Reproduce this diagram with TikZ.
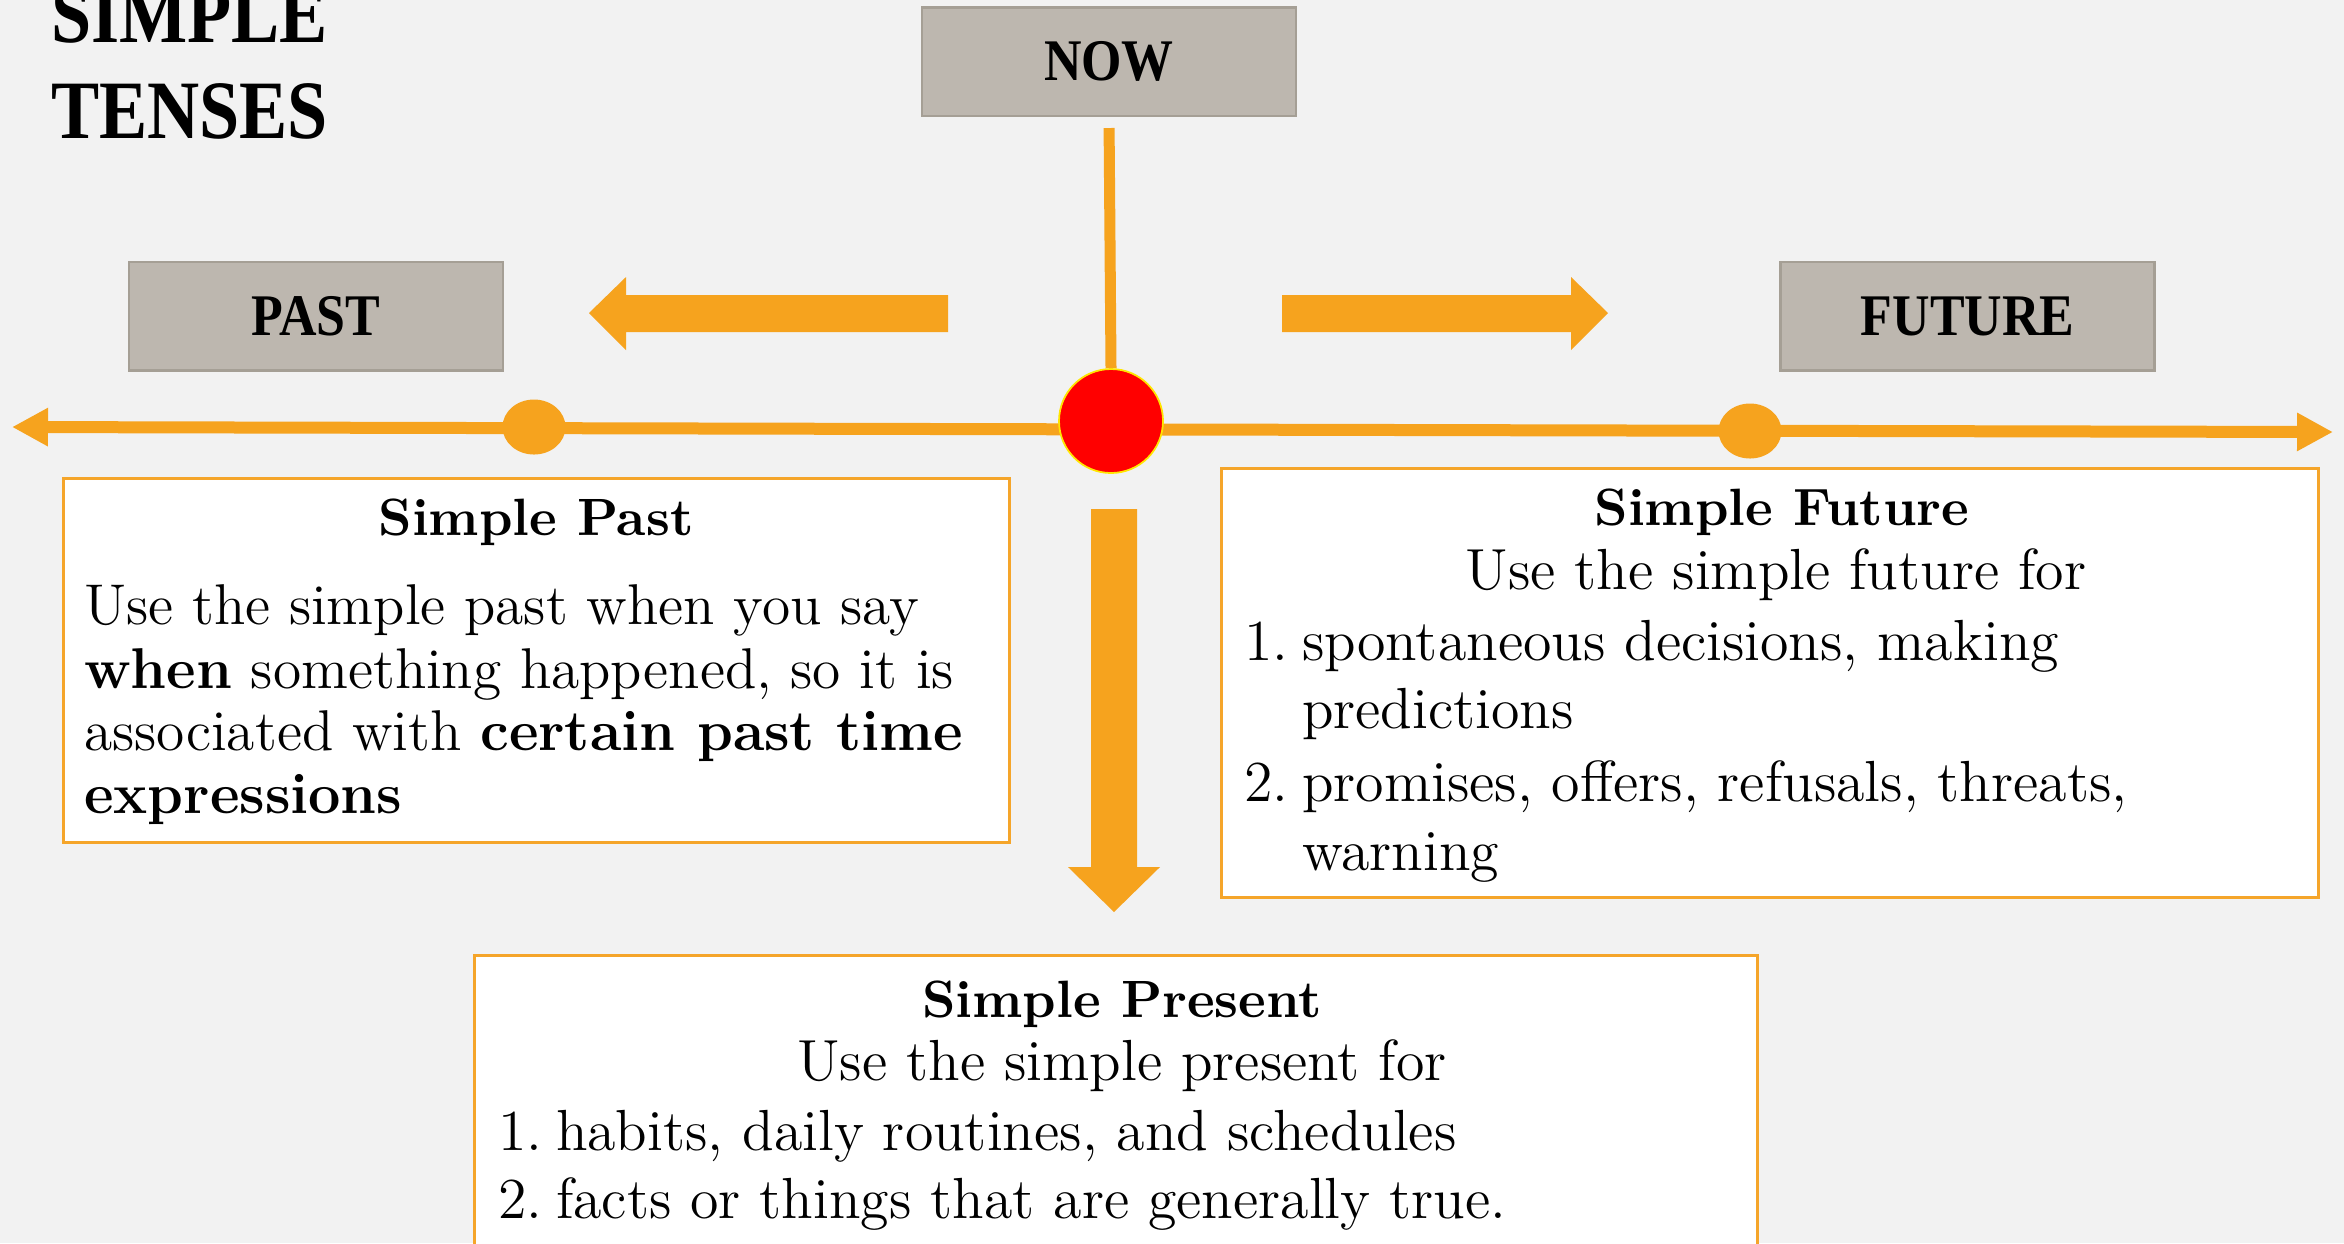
\documentclass[tikz,border=0pt]{standalone}
\usepackage{graphicx}
\usepackage{fontspec}
\newfontfamily\capsserif{Liberation Serif}
\usetikzlibrary{arrows.meta,fit,shapes.geometric}
\definecolor{bg}{HTML}{F2F2F2}
\definecolor{org}{HTML}{F6A31E}
\definecolor{gbox}{HTML}{BDB7AF}
\definecolor{gline}{HTML}{A59F95}
\definecolor{obord}{HTML}{F5A52A}
\definecolor{dotyel}{HTML}{FFE600}
\newcommand{\bodyfont}{\fontsize{11.6}{13}\selectfont}
\newcommand{\pastfont}{\fontsize{11.5}{13}\selectfont}
\newcommand{\headfont}{\fontsize{10.5}{12}\selectfont\bfseries}
\newcommand{\capfont}{\capsserif\fontsize{11.8}{13}\selectfont\bfseries}
\newcommand{\sq}[1]{\scalebox{0.88}[1]{#1}}
\begin{document}
\begin{tikzpicture}[x=0.2pt,y=-0.2pt,
  graybox/.style={draw=gline,line width=0.5pt,fill=gbox,minimum width=74.8pt,minimum height=21.7pt,inner sep=0pt,font=\capfont},
  wbox/.style={draw=obord,line width=0.6pt,fill=white,inner sep=0pt},
  tline/.style={draw=org,line width=2.4pt},
  txt/.style={inner sep=0pt,font=\bodyfont},
  ptxt/.style={inner sep=0pt,font=\pastfont},
  hd/.style={inner sep=0pt,font=\headfont,anchor=base},
  odot/.style={ellipse,fill=org,inner sep=0pt,minimum width=12.6pt,minimum height=11pt},
  blockarrow/.style={fill=org},
  ttl/.style={inner sep=0pt,anchor=base west,font=\capsserif\fontsize{16.6}{19}\selectfont\bfseries}
]
\clip (0,0) rectangle (2344,1243);
\fill[bg] (0,0) rectangle (2344,1243);

% title
\node[ttl] (t1) at (50,42) {\scalebox{0.87}[1]{SIMPLE}};
\node[ttl] (t2) at (50,138) {\scalebox{0.87}[1]{TENSES}};

% gray boxes
\node[graybox] (now) at (1109,61.5) {\sq{NOW}};
\node[graybox] (past) at (316,316) {\sq{PAST}};
\node[graybox] (future) at (1967.5,316) {\sq{FUTURE}};

% block arrows
\fill[blockarrow] (589,313) -- (626,277) -- (626,295) -- (948,295) -- (948,332) -- (626,332) -- (626,350) -- cycle;
\fill[blockarrow] (1608,313) -- (1571,277) -- (1571,295) -- (1282,295) -- (1282,332) -- (1571,332) -- (1571,350) -- cycle;
\fill[blockarrow] (1114,912) -- (1068,867) -- (1091,867) -- (1091,509) -- (1137,509) -- (1137,867) -- (1160,867) -- cycle;

% time line
\coordinate (lend) at (12,427);
\coordinate (rend) at (2333,432);
\draw[tline,{Triangle[length=7.2pt,width=7.2pt]}-{Triangle[length=7.2pt,width=7.2pt]}] (lend) -- (rend);

\node[odot] (pastdot) at (534,427) {};
\node[odot] (futdot) at (1750,431) {};
\node[circle,fill=red,draw=dotyel,line width=0.35pt,minimum size=20.8pt,inner sep=0pt] (nowdot) at (1111,421) {};
\draw[draw=org,line width=2.2pt,shorten <=2.2pt] (now.south) -- (nowdot.north);

% white boxes
\node[wbox,fit={(63,478) (1009,842)}] (pastbox) {};
\node[wbox,fit={(1221,468) (2318,897)}] (futbox) {};
\node[wbox,fit={(474,955) (1757,1300)}] (presbox) {};

% simple past text
\node[hd] (ph) at (536,535) {Simple Past};
\node[ptxt,anchor=base west] (pl1) at (83,624) {Use the simple past when you say};
\node[ptxt,anchor=base west] (pl2) at (83,688) {\textbf{when} something happened, so it is};
\node[ptxt,anchor=base west] (pl3) at (83,750) {associated with \textbf{certain past time}};
\node[ptxt,anchor=base west] (pl4) at (83,813) {\textbf{expressions}};

% simple future text
\node[hd] (fh) at (1782,525) {Simple Future};
\node[txt,anchor=base] (fl0) at (1776,589) {Use the simple future for};
\node[txt,anchor=base west] (fn1) at (1243,660) {1.};
\node[txt,anchor=base west] (fl1) at (1301,660) {spontaneous decisions, making};
\node[txt,anchor=base west] (fl2) at (1301,728) {predictions};
\node[txt,anchor=base west] (fn2) at (1243,801) {2.};
\node[txt,anchor=base west] (fl3) at (1301,801) {promises, offers, refusals, threats,};
\node[txt,anchor=base west] (fl4) at (1301,870) {warning};

% simple present text
\node[hd] (sh) at (1122,1017) {Simple Present};
\node[txt,anchor=base] (sl0) at (1122,1080) {Use the simple present for};
\node[txt,anchor=base west] (sn1) at (497,1150) {1.};
\node[txt,anchor=base west] (sl1) at (555,1150) {habits, daily routines, and schedules};
\node[txt,anchor=base west] (sn2) at (497,1218) {2.};
\node[txt,anchor=base west] (sl2) at (555,1218) {facts or things that are generally true.};
\end{tikzpicture}
\end{document}
